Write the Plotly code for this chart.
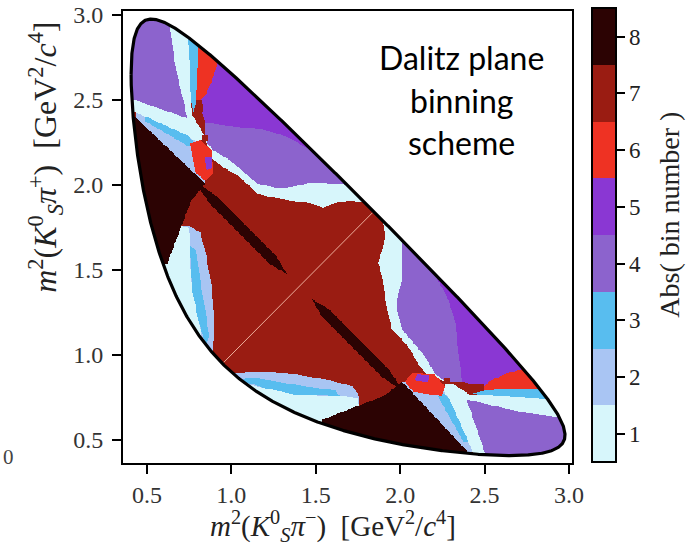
import numpy as np
import plotly.graph_objects as go

# ---------------- physical constants (GeV) ----------------
M_D = 1.86484
M_KS = 0.497611
M_PI = 0.13957

# ---------------- bins / colours ----------------
BIN_NUMBERS = [1, 2, 3, 4, 5, 6, 7, 8]
BIN_COLORS = ["#d7f6fb", "#a9c5f3", "#58bdef", "#8c63cd",
              "#8a37d3", "#ee3223", "#9a1c12", "#2c0303"]
BASE_BIN = 7

# ---------------- bin regions (upper half: m2(KSpi+) >= m2(KSpi-)) ----------------
# vertices in (m2(KSpi-), m2(KSpi+)), painted in order; lower half is the mirror image
PURPLE5_TOP = [(0.786, 3.088), (2.118, 3.088), (2.118, 1.909), (1.704, 2.027), (1.627, 2.074),
               (1.544, 2.145), (1.449, 2.216), (1.349, 2.275), (1.248, 2.310), (1.153, 2.334),
               (1.053, 2.340), (0.952, 2.351), (0.845, 2.369), (0.804, 2.499), (0.786, 2.735)]
PURPLE4_BAND = [(0.845, 2.369), (0.952, 2.351), (1.053, 2.340), (1.153, 2.334), (1.248, 2.310),
                (1.349, 2.275), (1.449, 2.216), (1.544, 2.145), (1.627, 2.074), (1.704, 2.027),
                (2.118, 1.909), (2.118, 1.732), (1.686, 2.004), (1.585, 2.009), (1.467, 2.015),
                (1.349, 1.986), (1.272, 1.980), (1.153, 2.009), (0.993, 2.145), (0.893, 2.204),
                (0.845, 2.263)]
CYAN_BAND = [(0.845, 2.263), (0.893, 2.204), (0.993, 2.145), (1.153, 2.009), (1.272, 1.980),
             (1.349, 1.986), (1.467, 2.015), (1.585, 2.009), (1.686, 2.004), (2.118, 1.732),
             (2.118, 1.437), (1.899, 1.833), (1.822, 1.892), (1.704, 1.909), (1.627, 1.897),
             (1.544, 1.868), (1.467, 1.892), (1.349, 1.909), (1.248, 1.927), (1.153, 1.950),
             (1.053, 2.045), (0.952, 2.104), (0.875, 2.163)]
PURPLE4_TIP = [(0.224, 3.088), (0.638, 3.088), (0.638, 2.912), (0.650, 2.823), (0.662, 2.735),
               (0.686, 2.617), (0.715, 2.499), (0.739, 2.393), (0.431, 2.499), (0.224, 2.570)]
CYAN_VERT = [(0.638, 3.088), (0.745, 3.088), (0.745, 2.823), (0.757, 2.617), (0.762, 2.499),
             (0.768, 2.410), (0.816, 2.334), (0.745, 2.310), (0.739, 2.393), (0.715, 2.499),
             (0.686, 2.617), (0.662, 2.735), (0.650, 2.823), (0.638, 2.912)]
SKY_VERT = [(0.745, 3.088), (0.798, 3.088), (0.804, 2.823), (0.798, 2.617), (0.792, 2.499),
            (0.774, 2.428), (0.762, 2.499), (0.757, 2.617), (0.745, 2.823)]
RED_VERT = [(0.798, 3.088), (1.171, 3.088), (0.922, 2.735), (0.887, 2.617), (0.845, 2.528),
            (0.816, 2.499), (0.792, 2.499), (0.798, 2.617), (0.804, 2.823)]
DARKRED_SPOT_A = [(0.786, 2.499), (0.828, 2.499), (0.834, 2.428), (0.798, 2.416)]
DARKRED_SPOT_B = [(0.828, 2.292), (0.863, 2.292), (0.863, 2.257), (0.828, 2.257)]
CYAN_DIAG = [(0.224, 2.587), (0.431, 2.499), (0.739, 2.393), (0.816, 2.334), (0.851, 2.263),
             (0.786, 2.257), (0.739, 2.292), (0.431, 2.428), (0.224, 2.499)]
LAVENDER_MID = [(0.431, 2.428), (0.739, 2.292), (0.786, 2.257), (0.816, 2.145), (0.845, 2.009),
                (0.431, 2.387)]
SKY_MID = [(0.490, 2.404), (0.739, 2.292), (0.774, 2.257), (0.757, 2.222), (0.490, 2.375)]
RED_MID = [(0.757, 2.245), (0.816, 2.263), (0.887, 2.204), (0.893, 2.068), (0.845, 2.027),
           (0.786, 2.074)]
PURPLE5_DOT = [(0.840, 2.163), (0.881, 2.169), (0.887, 2.098), (0.851, 2.086)]
LAVENDER_LOW = [(0.668, 1.762), (0.757, 1.756), (0.816, 1.720), (0.851, 1.585), (0.887, 1.379),
                (0.899, 1.202), (0.893, 1.025), (0.520, 1.025), (0.520, 1.538)]
CYAN_LOW = [(0.668, 1.762), (0.745, 1.750), (0.757, 1.673), (0.757, 1.555), (0.768, 1.379),
            (0.804, 1.202), (0.845, 1.025), (0.520, 1.025), (0.520, 1.538)]
SKY_LOW = [(0.757, 1.644), (0.792, 1.614), (0.816, 1.437), (0.845, 1.261), (0.869, 1.113),
           (0.851, 1.054), (0.804, 1.202), (0.768, 1.379)]
DARK_WEDGE = [(0.224, 2.528), (0.431, 2.399), (0.845, 2.009), (0.762, 1.909), (0.620, 1.538),
              (0.224, 1.538)]
DARK_STREAK = [(0.7775, 2.0275), (0.925, 1.925), (1.2725, 1.5725), (1.3275, 1.4775),
               (1.2325, 1.5325), (0.88, 1.88)]

REGIONS = [
    (5, PURPLE5_TOP), (4, PURPLE4_BAND), (1, CYAN_BAND), (4, PURPLE4_TIP),
    (1, CYAN_VERT), (3, SKY_VERT), (6, RED_VERT), (7, DARKRED_SPOT_A),
    (1, CYAN_DIAG), (2, LAVENDER_MID), (3, SKY_MID), (6, RED_MID), (7, DARKRED_SPOT_B),
    (5, PURPLE5_DOT), (2, LAVENDER_LOW), (1, CYAN_LOW), (3, SKY_LOW),
    (8, DARK_WEDGE), (8, DARK_STREAK),
]

X_TICKS = [0.5, 1.0, 1.5, 2.0, 2.5, 3.0]
Y_TICKS = [0.5, 1.0, 1.5, 2.0, 2.5, 3.0]
X_RANGE = [0.358, 3.018]
Y_RANGE = [0.362, 3.024]


def y_limits(x):
    m12 = np.sqrt(x)
    e2 = (x - M_KS ** 2 + M_PI ** 2) / (2 * m12)
    e3 = (M_D ** 2 - x - M_PI ** 2) / (2 * m12)
    p2 = np.sqrt(np.clip(e2 ** 2 - M_PI ** 2, 0, None))
    p3 = np.sqrt(np.clip(e3 ** 2 - M_PI ** 2, 0, None))
    m23_hi = (e2 + e3) ** 2 - (p2 - p3) ** 2
    m23_lo = (e2 + e3) ** 2 - (p2 + p3) ** 2
    s = M_D ** 2 + M_KS ** 2 + 2 * M_PI ** 2
    return s - x - m23_hi, s - x - m23_lo


def inside(px, py, poly):
    poly = np.asarray(poly, float)
    res = np.zeros(px.shape, bool)
    n = len(poly)
    for i in range(n):
        x1, y1 = poly[i]
        x2, y2 = poly[(i + 1) % n]
        if y1 == y2:
            continue
        cond = (y1 > py) != (y2 > py)
        xint = (x2 - x1) * (py - y1) / (y2 - y1) + x1
        res ^= cond & (px < xint)
    return res


XMIN = (M_KS + M_PI) ** 2
XMAX = (M_D - M_PI) ** 2

step = 0.005
gx = np.arange(0.36, 3.02 + 1e-9, step)
gy = np.arange(0.36, 3.02 + 1e-9, step)
X, Y = np.meshgrid(gx, gy)
U = np.minimum(X, Y)
V = np.maximum(X, Y)
Z = np.full(X.shape, float(BASE_BIN))
for b, poly in REGIONS:
    Z[inside(U, V, poly)] = b
Xc = np.clip(X, XMIN + 1e-9, XMAX - 1e-9)
lo, hi = y_limits(Xc)
mask = (X > XMIN) & (X < XMAX) & (Y >= lo) & (Y <= hi)
Z[~mask] = np.nan

# boundary curve
t = np.linspace(0, np.pi, 700)
bx = XMIN + (XMAX - XMIN) * (1 - np.cos(t)) / 2
blo, bhi = y_limits(bx)
bound_x = np.concatenate([bx, bx[::-1], bx[:1]])
bound_y = np.concatenate([bhi, blo[::-1], bhi[:1]])

# diagonal inside the region
diag_ok = (bx >= blo) & (bx <= bhi)
d0, d1 = bx[diag_ok][0], bx[diag_ok][-1]

cs = []
for i, c in enumerate(BIN_COLORS):
    cs += [[i / 8, c], [(i + 1) / 8, c]]

SERIF = "Liberation Serif, serif"
fig = go.Figure()
fig.add_trace(go.Heatmap(
    x=gx, y=gy, z=Z, zmin=0.5, zmax=8.5, colorscale=cs, hoverinfo="skip",
    colorbar=dict(
        x=1.0445, xanchor="left", xpad=0, ypad=0, thickness=24, thicknessmode="pixels",
        len=454, lenmode="pixels", y=0.504, yanchor="middle",
        outlinecolor="black", outlinewidth=2,
        tickvals=BIN_NUMBERS, ticktext=[str(b) for b in BIN_NUMBERS],
        ticks="outside", ticklen=8, tickwidth=1.5, tickcolor="black",
        tickfont=dict(family=SERIF, size=23, color="#222"),
    ),
))
fig.add_trace(go.Scatter(x=[d0, d1], y=[d0, d1], mode="lines",
                         line=dict(color="rgba(245,190,170,0.9)", width=1),
                         hoverinfo="skip", showlegend=False))
fig.add_trace(go.Scatter(x=bound_x, y=bound_y, mode="lines",
                         line=dict(color="black", width=3.2),
                         hoverinfo="skip", showlegend=False))

axis_common = dict(showgrid=False, zeroline=False, showline=True, mirror=True,
                   linecolor="black", linewidth=2, ticks="outside", ticklen=9,
                   tickwidth=2, tickcolor="black",
                   tickfont=dict(family=SERIF, size=24, color="#333"))
fig.update_xaxes(range=X_RANGE, tickvals=X_TICKS, ticktext=[f"{v:.1f}" for v in X_TICKS],
                 ticklabelstandoff=0, **axis_common)
fig.update_yaxes(range=Y_RANGE, tickvals=Y_TICKS, ticktext=[f"{v:.1f}" for v in Y_TICKS],
                 ticklabelstandoff=4, **axis_common)

xtitle = ("<i>m</i><sup>2</sup>(<i>K</i><sup>0</sup><sub><i>S</i></sub><i>π</i><sup>−</sup>)"
          "  [GeV<sup>2</sup>/<i>c</i><sup>4</sup>]")
ytitle = ("<i>m</i><sup>2</sup>(<i>K</i><sup>0</sup><sub><i>S</i></sub><i>π</i><sup>+</sup>)"
          "  [GeV<sup>2</sup>/<i>c</i><sup>4</sup>]")
ann = [
    dict(text=xtitle, x=0.468, y=-0.139, xref="paper", yref="paper", showarrow=False,
         xanchor="center", yanchor="middle", font=dict(family=SERIF, size=29, color="#222")),
    dict(text=ytitle, x=-0.172, y=0.677, xref="paper", yref="paper", showarrow=False,
         textangle=-90, xanchor="center", yanchor="middle",
         font=dict(family=SERIF, size=32, color="#222")),
    dict(text="Abs( bin number )", x=1.218, y=0.549, xref="paper", yref="paper",
         showarrow=False, textangle=-90, xanchor="center", yanchor="middle",
         font=dict(family=SERIF, size=28, color="#222")),
    dict(text="0", x=-0.255, y=0.013, xref="paper", yref="paper", showarrow=False,
         xanchor="center", yanchor="middle", font=dict(family=SERIF, size=21, color="#444")),
]
for txt, yy in [("Dalitz plane", 0.898), ("binning", 0.803), ("scheme", 0.708)]:
    ann.append(dict(text=txt, x=0.755, y=yy, xref="paper", yref="paper", showarrow=False,
                    xanchor="center", yanchor="middle",
                    font=dict(family="Lato", size=32, color="black")))

fig.update_layout(width=688, height=546,
                  font=dict(family=SERIF, color="#222"),
                  margin=dict(l=123, r=116, t=11, b=83, autoexpand=False),
                  plot_bgcolor="white", paper_bgcolor="white", showlegend=False,
                  annotations=ann)
fig.write_html("out.html")
